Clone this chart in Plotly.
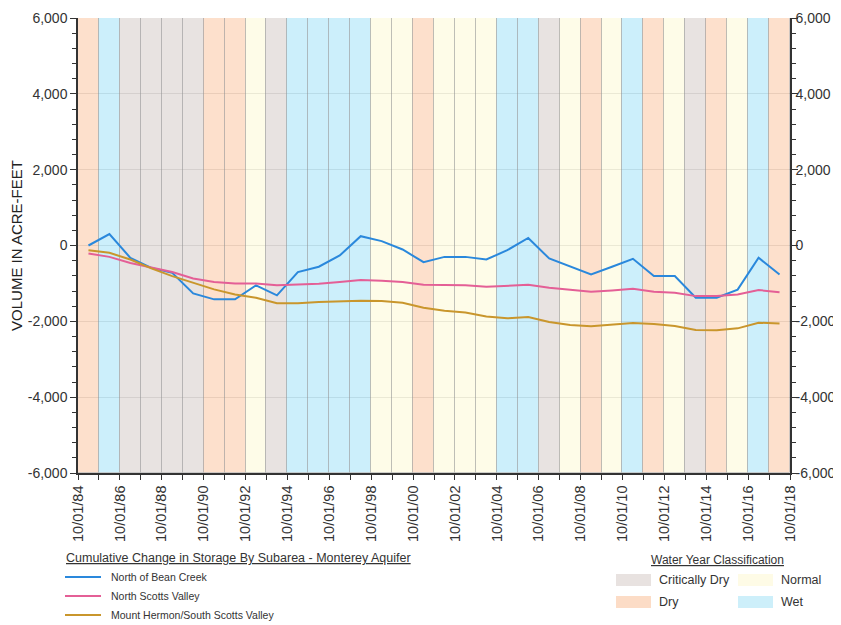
import plotly.graph_objects as go

# water years (start year of each Oct 1 - Sep 30 period)
wy_start = list(range(1984, 2018))
wy_class = ["Dry", "Wet", "Critically Dry", "Critically Dry", "Critically Dry", "Critically Dry",
            "Dry", "Dry", "Normal", "Critically Dry", "Wet", "Wet", "Wet", "Wet",
            "Normal", "Normal", "Dry", "Normal", "Normal", "Normal", "Wet", "Wet",
            "Critically Dry", "Normal", "Dry", "Normal", "Wet", "Dry", "Normal",
            "Critically Dry", "Dry", "Normal", "Wet", "Dry"]

bean_creek = [0, 300, -325, -590, -720, -1265, -1420, -1420, -1050, -1315, -700, -560,
              -263, 245, 115, -105, -440, -300, -300, -370, -123, 200, -343, -563,
              -765, -560, -350, -807, -807, -1377, -1377, -1165, -325, -765]
north_scotts = [-210, -300, -460, -590, -700, -870, -960, -1000, -1000, -1050, -1025, -1010,
                -965, -910, -930, -965, -1035, -1040, -1050, -1090, -1070, -1035, -1115, -1175,
                -1220, -1185, -1140, -1220, -1245, -1335, -1335, -1290, -1175, -1230]
mt_hermon = [-123, -193, -370, -605, -807, -983, -1157, -1290, -1377, -1525, -1525, -1490,
             -1475, -1455, -1465, -1510, -1640, -1720, -1770, -1875, -1920, -1885, -2017, -2095,
             -2130, -2087, -2043, -2070, -2122, -2227, -2235, -2185, -2035, -2060]

tick_years = list(range(1984, 2019, 2))
tick_labels = [f"10/01/{y % 100:02d}" for y in tick_years]
y_ticks = [-6000, -4000, -2000, 0, 2000, 4000, 6000]
y_labels = [f"{v:,}" for v in y_ticks]

class_colors = {
    "Critically Dry": "rgba(222,215,212,0.7)",
    "Dry": "rgba(252,211,182,0.7)",
    "Normal": "rgba(254,251,222,0.7)",
    "Wet": "rgba(183,232,249,0.7)",
}
swatch_colors = {"Critically Dry": "#e8e2e0", "Dry": "#fcdcc6", "Normal": "#fefbe6", "Wet": "#cdeffa"}
series = [("North of Bean Creek", bean_creek, "#2a88dc"),
          ("North Scotts Valley", north_scotts, "#e45f96"),
          ("Mount Hermon/South Scotts Valley", mt_hermon, "#c9962c")]

FONT = "Liberation Sans, Arial, sans-serif"
mid = [y + 0.5 for y in wy_start]

fig = go.Figure()
fig.add_trace(go.Bar(
    x=mid, y=[12000] * len(mid), base=-6000, width=1,
    marker=dict(color=[class_colors[c] for c in wy_class],
                line=dict(color="rgba(150,150,150,0.45)", width=1)),
    hoverinfo="skip", showlegend=False,
))
for name, vals, col in series:
    fig.add_trace(go.Scatter(x=mid, y=vals, mode="lines", name=name,
                             line=dict(color=col, width=2), showlegend=False))
# invisible trace to drive the right-hand axis
fig.add_trace(go.Scatter(x=[mid[0]], y=[0], yaxis="y2", mode="markers",
                         marker=dict(opacity=0), hoverinfo="skip", showlegend=False))

yax = dict(range=[-6000, 6000], tickvals=y_ticks, ticktext=y_labels, ticks="outside", ticklen=6,
           tickcolor="#333", tickwidth=1.2, showline=True, linecolor="#333", linewidth=1.5,
           zeroline=False, tickfont=dict(size=14, color="#333"), automargin=False,
           minor=dict(dtick=400, ticks="outside", ticklen=4, tickcolor="#333", showgrid=False))

# the page body adds an 8px offset, so the figure is 8px smaller than the window
fig.update_layout(
    width=833, height=617,
    paper_bgcolor="white", plot_bgcolor="white",
    font=dict(family=FONT, color="#333"),
    margin=dict(l=70, r=51, t=10, b=152, autoexpand=False),
    bargap=0,
    xaxis=dict(range=[1984, 2018], tickvals=tick_years, ticktext=tick_labels, tickangle=-90,
               ticks="outside", ticklen=5, tickcolor="#333", showline=True, linecolor="#333",
               linewidth=1.5, showgrid=False, zeroline=False, automargin=False,
               tickfont=dict(size=14.5, color="#333"),
               minor=dict(dtick=1, ticks="outside", ticklen=5, tickcolor="#333")),
    yaxis=dict(**yax, showgrid=True, gridcolor="rgba(140,140,140,0.55)", gridwidth=1,
               title=dict(text="VOLUME IN ACRE-FEET", font=dict(size=15, color="#222"), standoff=8)),
    yaxis2=dict(**yax, overlaying="y", side="right", showgrid=False, ticklabelstandoff=-5),
)

W0, W1, H0, H1 = 78, 790, 18, 473


def px(x):
    return (x - W0) / (W1 - W0)


def py(y):
    return (H1 - y) / (H1 - H0)


ann = []
shapes = []
ann.append(dict(text="<u>Cumulative Change in Storage By Subarea - Monterey Aquifer</u>",
                x=px(64), y=py(558), xanchor="left", yanchor="middle",
                font=dict(size=12.5, color="#333")))
for i, (name, _, col) in enumerate(series):
    yy = 577 + 19 * i
    shapes.append(dict(type="line", xref="paper", yref="paper", x0=px(65), x1=px(101),
                       y0=py(yy), y1=py(yy), line=dict(color=col, width=2)))
    ann.append(dict(text=name, x=px(109), y=py(yy), xanchor="left", yanchor="middle",
                    font=dict(size=10.5, color="#333")))

ann.append(dict(text="<u>Water Year Classification</u>", x=px(649), y=py(560),
                xanchor="left", yanchor="middle", font=dict(size=12, color="#333")))
legend_items = [("Critically Dry", 616, 580), ("Normal", 738, 580), ("Dry", 616, 602), ("Wet", 738, 602)]
for name, x0, yy in legend_items:
    shapes.append(dict(type="rect", xref="paper", yref="paper", x0=px(x0), x1=px(x0 + 35),
                       y0=py(yy - 6), y1=py(yy + 6), fillcolor=swatch_colors[name], line=dict(width=0)))
    ann.append(dict(text=name, x=px(x0 + 41), y=py(yy), xanchor="left", yanchor="middle",
                    font=dict(size=12.5, color="#333")))

for a in ann:
    a.update(xref="paper", yref="paper", showarrow=False)
fig.update_layout(annotations=ann, shapes=shapes)

fig.write_html("out.html")
